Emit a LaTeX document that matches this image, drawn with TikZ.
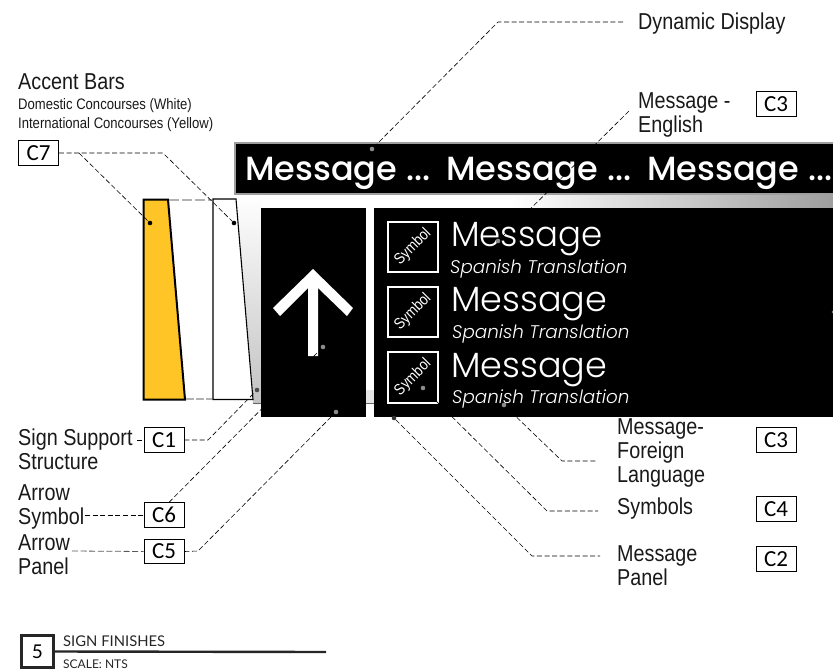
\documentclass[tikz,border=0pt]{standalone}
\usepackage{fontspec}
\setmainfont{Liberation Sans}
\newfontfamily\arialn[FakeStretch=0.86]{Liberation Sans}
\newfontfamily\gothl[ItalicFont={Poppins Light Italic}]{Poppins Light}
\newfontfamily\gothm{Poppins Medium}
\newfontfamily\tagf{Carlito}
\newfontfamily\titlef{Lato}
\definecolor{accentyel}{HTML}{FFC425}
\tikzset{
  lbl/.style={anchor=base west,inner sep=0pt,align=left,font=\arialn\fontsize{23}{24}\selectfont,text=black!90},
  sublbl/.style={anchor=base west,inner sep=0pt,font=\arialn\fontsize{15.2}{16}\selectfont,text=black!90},
  tagbox/.style={draw=black,line width=0.8pt,fill=white,minimum width=40pt,minimum height=24.5pt,inner sep=0pt,font=\tagf\fontsize{23}{24}\selectfont},
  lead/.style={draw=black,line width=0.6pt,dash pattern=on 5pt off 2.6pt},
  leadgray/.style={draw=black!65,line width=0.8pt,dash pattern=on 6pt off 2.6pt},
  dotk/.style={circle,fill=black,inner sep=0pt,minimum size=4.6pt},
  dotg/.style={circle,fill=black!45,inner sep=0pt,minimum size=4.6pt},
  headtxt/.style={anchor=base west,inner sep=0pt,text=white,font=\gothm\fontsize{33.5}{36}\selectfont},
  msgtxt/.style={anchor=base west,inner sep=0pt,text=white,font=\gothl\fontsize{35}{36}\selectfont},
  spatxt/.style={anchor=base west,inner sep=0pt,text=white,font=\gothl\itshape\fontsize{18.3}{20}\selectfont},
  symbox/.style={draw=white,line width=1.6pt,fill=black,minimum width=50.5pt,minimum height=50.5pt,inner sep=0pt},
  symtxt/.style={rotate=45,inner sep=0pt,text=white,font=\arialn\fontsize{15.5}{16}\selectfont},
}
\begin{document}
\begin{tikzpicture}[x=1pt,y=-1pt]
\useasboundingbox (0,0) rectangle (833,672);
\clip (0,0) rectangle (833,672);
% backing panel
\fill[white] (236,195) -- (510,195) -- (510,404) -- (253,404) -- cycle;
\shade[left color=white,right color=black!38] (510,195) rectangle (833,208);
\shade[top color=white,bottom color=black!24] (236,195) -- (261,195) -- (261,404) -- (253,404) -- cycle;
\fill[black!10] (366,404) rectangle (374,390);
\draw[black!60,line width=0.6pt] (253,403.5) -- (374,403.5);
% header band
\fill[black] (235,143) rectangle (833,194);
\draw[black!38,line width=2pt] (833,143) -- (235,143) -- (235,194) -- (833,194);
% accent bars
\draw[black,line width=1.1pt,fill=white] (213,199) -- (236,199) -- (253,399.5) -- (213,399.5) -- cycle;
\draw[black,line width=2pt,fill=accentyel] (143.5,199.5) -- (168,199.5) -- (185,399.5) -- (143.5,399.5) -- cycle;
\draw[black!30,line width=2pt,dash pattern=on 10pt off 3pt] (169,200) -- (212,200);
\draw[black!30,line width=2pt,dash pattern=on 8pt off 2pt] (186,399) -- (212,399);
% panels
\fill[black] (261,208) rectangle (366,417);
\fill[black] (374,208) rectangle (833,417);
\fill[white] (313,269) -- (353,308) -- (347,316) -- (318,288) -- (318,356) -- (308,356) -- (308,288) -- (280,316) -- (273,308) -- cycle;
% header text
\node[headtxt] (h1) at (245,180) {Message ...};
\node[headtxt] (h2) at (446,180) {Message ...};
\node[headtxt] (h3) at (647,180) {Message ...};
% symbols
\node[symbox] (s1) at (413,247) {}; \node[symtxt] at (s1) {Symbol};
\node[symbox] (s2) at (413,312) {}; \node[symtxt] at (s2) {Symbol};
\node[symbox] (s3) at (413,377.5) {}; \node[symtxt] at (s3) {Symbol};
% messages
\node[msgtxt,xscale=.97] (m1) at (451,246) {Message};
\node[msgtxt] (m2) at (451,311.5) {Message};
\node[msgtxt] (m3) at (451,377) {Message};
\node[spatxt] (t1) at (450,273) {Spanish Translation};
\node[spatxt] (t2) at (452,338) {Spanish Translation};
\node[spatxt] (t3) at (452,403) {Spanish Translation};
% tags
\node[tagbox] (c7) at (38.5,153) {C7};
\node[tagbox] (c1) at (164,440) {C1};
\node[tagbox] (c6) at (164,515) {C6};
\node[tagbox] (c5) at (164,551.5) {C5};
\node[tagbox] (c3a) at (776,104) {C3};
\node[tagbox] (c3b) at (776,440) {C3};
\node[tagbox] (c4) at (776,509) {C4};
\node[tagbox] (c2) at (776,559) {C2};
% labels (a multi-line node's base is its last line)
\node[lbl] (accent) at (18,89) {Accent Bars};
\node[sublbl] (dom) at (18,109) {Domestic Concourses (White)};
\node[sublbl] (intl) at (18,128) {International Concourses (Yellow)};
\node[lbl] (dyn) at (638,29) {Dynamic Display};
\node[lbl] (eng) at (638,132) {Message -\\English};
\node[lbl] (sup) at (18,469) {Sign Support\\Structure};
\node[lbl] (asym) at (18,524) {Arrow\\Symbol};
\node[lbl] (apan) at (18,574) {Arrow\\Panel};
\node[lbl] (forg) at (617,482) {Message-\\Foreign\\Language};
\node[lbl] (sym) at (617,514) {Symbols};
\node[lbl] (mpan) at (617,585) {Message\\Panel};
% leader anchors
\node[dotg] (ddyn) at (372,149) {};
\node[dotg] (deng) at (498,241) {};
\node[dotk] (dyel) at (150,223) {};
\node[dotk] (dwht) at (234,223) {};
\node[dotg,fill=black!70] (dsup) at (257,390) {};
\node[dotg] (darr) at (323,347) {};
\node[dotg] (dapn) at (336,412) {};
\node[dotk,fill=black!80] (dmpn) at (394,418) {};
\node[dotg] (dsym) at (423,388) {};
\node[dotg] (dfor) at (504,405) {};
\node[dotg,minimum size=3pt] (dedge) at (833,312) {};
\coordinate (edyn) at (625,22);
\coordinate (eeng) at (629,111);
\coordinate (efor) at (597,461);
\coordinate (esym) at (598,511);
\coordinate (empn) at (600,556);
\coordinate (lsup) at (137,440);
\coordinate (lsym) at (85,515);
\coordinate (lpan) at (72,551);
% leaders
\draw[lead] (ddyn) -- (498,22) -- (edyn);
\draw[lead] (eeng) -- (deng);
\draw[lead] (c7.east) -- (163,153) -- (dwht);
\draw[lead] (79,153) -- (dyel);
\draw[lead] (c1.east) -- (208,440) -- (dsup);
\draw[lead] (lsup) -- (c1.west);
\draw[lead] (c6.north -| 169,503) -- (darr);
\draw[lead] (lsym) -- (c6.west);
\draw[lead] (c5.east) -- (198,551) -- (dapn);
\draw[leadgray] (lpan) -- (c5.west);
\draw[lead] (dmpn) -- (532,556) -- (empn);
\draw[lead] (dsym) -- (547,511) -- (esym);
\draw[lead] (dfor) -- (562,461) -- (efor);
% title block
\node[draw=black!85,line width=2.2pt,minimum width=32pt,minimum height=32pt,inner sep=0pt,font=\titlef\fontsize{19}{22}\selectfont] (num) at (37.5,651.5) {5};
\coordinate (tend) at (326,652);
\draw[black!85,line width=2.4pt] (num.east) -- (tend);
\node[anchor=base west,inner sep=0pt,text=black!85,font=\titlef\fontsize{14.8}{16}\selectfont] (ttl) at (63,646) {SIGN FINISHES};
\node[anchor=base west,inner sep=0pt,text=black!85,font=\titlef\fontsize{12}{14}\selectfont] (scl) at (63,668) {SCALE: NTS};
\end{tikzpicture}
\end{document}
